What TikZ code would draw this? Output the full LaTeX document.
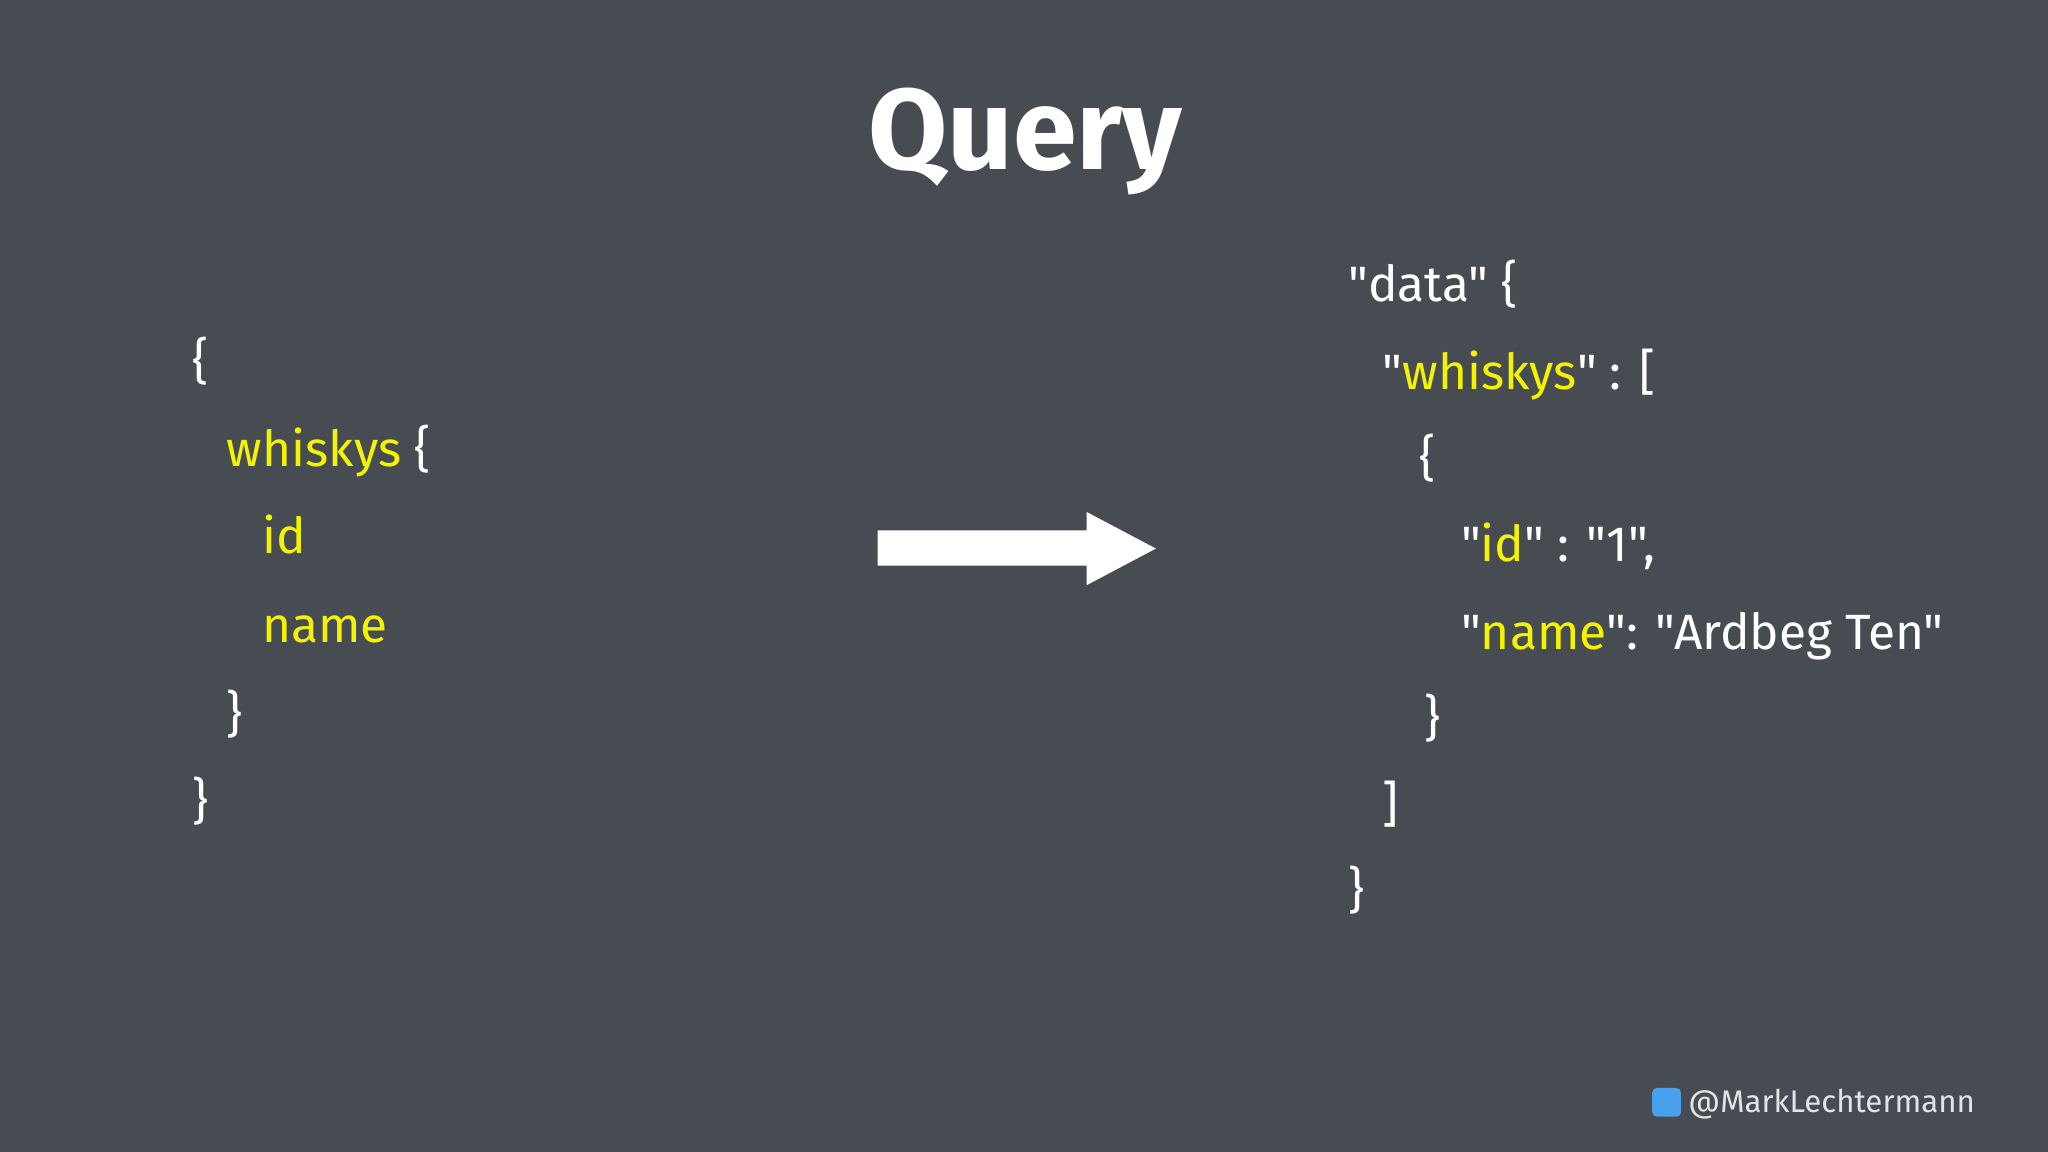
\documentclass[tikz,border=0pt]{standalone}
\usepackage{fontspec}
\setmainfont{Fira Sans}[Ligatures=TeXOff]
\definecolor{slide}{HTML}{474C53}
\definecolor{key}{HTML}{F4F400}
\definecolor{twit}{HTML}{4AA1EB}
\tikzset{code/.style={anchor=base west,inner sep=0pt,text=white,font=\fontsize{10.8}{13}\selectfont}}
\newcommand{\ky}[1]{\textcolor{key}{#1}}
\begin{document}
\begin{tikzpicture}[x=0.01cm,y=-0.01cm]
  \fill[slide] (0,0) rectangle (1568,882);
  \node (title) at (785,108) {\fontsize{25}{30}\selectfont\color{white}\fontseries{sb}\selectfont Query};
  % query
  \node[code] (q1) at (147,290) {\{};
  \node[code] (q2) at (173,357) {\ky{whiskys} \{};
  \node[code] (q3) at (200,424) {\ky{id}};
  \node[code] (q4) at (200,492) {\ky{name}};
  \node[code] (q5) at (173,560) {\}};
  \node[code] (q6) at (147,627) {\}};
  % arrow
  \fill[white] (672,406) -- (832,406) -- (832,392) -- (885,420) -- (832,448)
    -- (832,433) -- (672,433) -- cycle;
  % result
  \node[code] (r1) at (1032,231) {"data" \{};
  \node[code] (r2) at (1058,298) {"\ky{whiskys}" : [};
  \node[code] (r3) at (1086,364) {\{};
  \node[code] (r4) at (1118,430) {"\ky{id}" : "1",};
  \node[code] (r5) at (1118,497) {"\ky{name}": "Ardbeg Ten"};
  \node[code] (r6) at (1090,563) {\}};
  \node[code] (r7) at (1058,629) {]};
  \node[code] (r8) at (1032,695) {\}};
  % handle
  \fill[twit,rounded corners=1pt] (1265,833) rectangle (1287,855);
  \node[anchor=west,inner sep=0pt,text=white!85!slide,font=\fontsize{6.8}{8}\selectfont] (handle) at (1292,845) {@MarkLechtermann};
\end{tikzpicture}
\end{document}
